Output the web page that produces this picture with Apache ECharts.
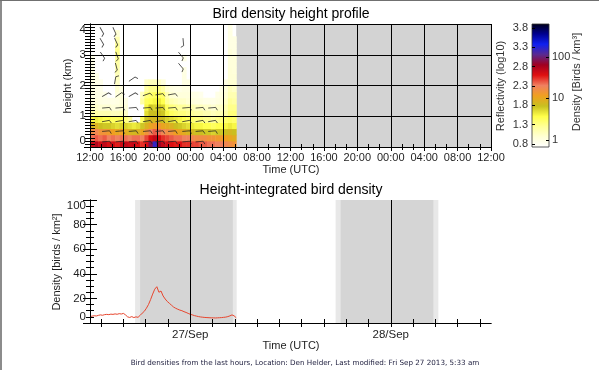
<!DOCTYPE html>
<html><head><meta charset="utf-8">
<script src="https://cdn.jsdelivr.net/npm/echarts@6/dist/echarts.min.js"></script>
<style>html,body{margin:0;padding:0;background:#fff}#c{width:599px;height:370px}</style>
</head><body><div id="c"></div>
<script>
// ---------- DATA (hours counted from 26 Sep 12:00 UTC) ----------
const clockLabels = ['12:00','16:00','20:00','00:00','04:00','08:00','12:00','16:00','20:00','00:00','04:00','08:00','12:00'];
const dateLabelHours = [12, 36];
const dateLabels = ['27/Sep', '28/Sep'];
const densityTickHours = [1.33,4,6.67,9.33,12,14.67,17.33,20,22.67,25.33,28,30.67,33.33,36,38.67,41.33,44,46.67];
const reflLabels = [0.8,1.3,1.8,2.3,2.8,3.3,3.8];
const densityTickRefl = [0.9, 1.99, 3.05];
const densityTickLabels = ['1','10','100'];
const reflMin = 0.72, reflMax = 3.9;
const colorStops = ['#ffffff','#ffffd6','#ffff9a','#ffff4a','#c8c020','#f0a020','#f08060','#e01010','#a00020','#5a2a90','#1020f0','#000090','#000018'];

// reflectivity (log10) per 0.2 km height bin, 30-min columns from 12:00 to 05:30
const colStepHours = 0.5, rowStepKm = 0.2;
const h00 = [2.65,2.75,2.65,2.7,2.6,2.65,2.55,2.65, 2.7,2.65,2.7,2.6,2.5,2.6,2.95,3.25, 2.85,2.7,2.65,2.6,2.55,2.6,2.5,2.5, 2.45,2.45,2.4,2.4,2.35,2.35,2.3,2.3, 2.25,2.2,2.15];
const h02 = [2.35,2.4,2.35,2.4,2.3,2.35,2.3,2.35, 2.35,2.3,2.35,2.35,2.3,2.45,2.6,2.7, 2.6,2.5,2.45,2.4,2.35,2.35,2.3,2.3, 2.25,2.2,2.2,2.2,2.15,2.15,2.1,2.1, 2.05,2.0,1.95];
const h04 = [2.2,2.25,2.15,2.15,2.1,2.05,2.0,2.05, 1.95,1.9,1.85,1.9,2.0,2.15,2.3,2.4, 2.35,2.25,2.2,2.15,2.05,2.0,1.95,1.9, 1.85,1.8,1.8,1.75,1.75,1.7,1.75,1.75, 1.8,1.85,1.8];
const h06 = [1.85,1.9,1.8,1.75,1.75,1.7,1.65,1.7, 1.7,1.65,1.6,1.65,1.75,1.9,2.0,2.1, 2.1,2.0,1.95,1.9,1.8,1.75,1.7,1.65, 1.6,1.55,1.55,1.5,1.5,1.45,1.5,1.5, 1.55,1.6,1.55];
const h08 = [1.55,1.6,1.55,1.5,1.5,1.45,1.45,1.5, 1.35,1.25,0,0,1.45,1.75,1.85,1.85, 1.85,1.8,1.7,1.65,1.6,1.55,1.5,1.45, 1.4,1.35,1.35,1.3,1.3,1.25,1.3,1.35, 1.4,1.45,1.4];
const h10 = [1.2,1.2,1.15,1.15,1.15,1.1,1.1,1.15, 1.05,0,0,0,0,1.65,1.8,1.8, 1.8,1.75,1.55,1.45,1.4,1.35,1.35,1.3, 1.25,1.2,1.2,1.15,1.15,1.1,1.15,1.15, 1.2,1.35,1.35];
const h12 = [1.05,1.05,1.0,1.0,1.0,0.95,0.95,1.0, 0.95,0,0,0,0,1.55,1.75,1.7, 1.75,1.7,1.45,1.35,1.3,1.25,1.25,1.2, 1.15,1.1,1.1,1.05,1.05,1.0,1.05,1.05, 1.15,1.3,1.3];
const h14 = [0.95,0.95,0.9,0.88,0.88,0.88,0.9,0.95, 0.88,0,0,0,1.2,1.45,1.5,1.55, 1.6,1.5,1.25,1.15,1.1,1.05,1.05,1.0, 0.95,0.92,0.92,0.88,0.88,0.88,0.92,0.95, 1.05,1.25,1.2];
const h16 = [0.92,0.9,0.88,0.85,0,0,0.95,0.95, 0,0,0,0,1.1,1.35,1.4,1.45, 1.45,1.4,1.15,1.0,0.95,0.95,0.95,0.95, 0.88,0.88,0.85,0,0,0,0.88,0.92, 1.0,1.15,1.15];
const h18 = [0.9,0.88,0.85,0,0,0,1.0,0.9, 0,0,0,0,0,1.2,1.3,1.3, 1.3,1.2,1.0,0.92,0.88,0.88,0.92,0.92, 0,0,0,0,0,0,0,0.88, 0.95,1.1,1.05];
const h20 = [0.9,0.88,0.85,0,0,0,1.05,0, 0,0,0,0,0,1.05,1.1,1.1, 1.05,0.95,0,0,0,0,0.9,0.9, 0,0,0,0,0,0,0,0, 0.9,1.0,1.0];
const h22 = [0.9,0.88,0,0,0,0,1.1,0, 0,0,0,0,0,0,0,0, 0,0,0,0,0,0,0.9,0, 0,0,0,0,0,0,0,0, 0,0.98,0.98];
const h24 = [0.9,0,0,0,0,0,1.15,0, 0,0,0,0,0,0,0,0, 0,0,0,0,0,0,0.9,0, 0,0,0,0,0,0,0,0, 0,0.98,0.95];
const h26 = [0.88,0,0,0,0,0,1.2,0, 0,0,0,0,0,0,0,0, 0,0,0,0,0,0,0,0, 0,0,0,0,0,0,0,0, 0,0.95,0.95];
const h28 = [0.88,0,0,0,0,0,1.25,0, 0,0,0,0,0,0,0,0, 0,0,0,0,0,0,0.88,0, 0,0,0,0,0,0,0,0, 0,0.95,0.95];
const h30 = [0,0,0,0,0,0,1.3,0, 0,0,0,0,0,0,0,0, 0,0,0,0,0,0,0,0, 0,0,0,0,0,0,0,0, 0,0.95,0.9];
const h32 = [0,0,0,0,0,0,1.25,0, 0,0,0,0,0,0,0,0, 0,0,0,0,0,0,0,0, 0,0,0,0,0,0,0,0, 0,0.9,0.9];
const h34 = [0,0,0,0,0,0,1.15,0, 0,0,0,0,0,0,0,0, 0,0,0,0,0,0,0,0, 0,0,0,0,0,0,0,0, 0,0.9,0.9];
const h36 = [0,0,0,0,0,0,1.0,0, 0,0,0,0,0,0,0,0, 0,0,0,0,0,0,0,0, 0,0,0,0,0,0,0,0, 0,0.9,0];
const h38 = [0,0,0,0,0,0,0,0, 0,0,0,0,0,0,0,0, 0,0,0,0,0,0,0,0, 0,0,0,0,0,0,0,0, 0,0.88,0];
const profileRows = [h00,h02,h04,h06,h08,h10,h12,h14,h16,h18,h20,h22,h24,h26,h28,h30,h32,h34,h36,h38];
const dataEndHour = 17.5;

// wind barbs: time (h), height (km), orientation (deg)
const barbHours   = [1.3,2.8, 1.3,3.0,11.0, 1.4,3.1,10.8, 3.0,10.8, 3.2,5.2, 2.0,3.6,5.2,6.9,8.4,9.9,
                     2.0,3.6,5.2,6.9,8.4,9.9,11.6,13.2,14.7, 2.0,3.6,5.2,6.9,8.4,9.9,11.6,13.2,14.7,
                     2.0,3.6,5.2,6.9,8.4,9.9,11.6,13.2,14.7, 2.0,3.6,5.2,6.9,8.4,9.9,11.6,13.2];
const barbHeights = [3.74,3.74, 3.39,3.39,3.39, 2.94,2.94,2.94, 2.58,2.58, 2.18,2.18, 1.67,1.67,1.67,1.67,1.67,1.67,
                     1.23,1.23,1.23,1.23,1.23,1.23,1.23,1.23,1.23, 0.8,0.8,0.8,0.8,0.8,0.8,0.8,0.8,0.8,
                     0.47,0.47,0.47,0.47,0.47,0.47,0.47,0.47,0.47, 0.13,0.13,0.13,0.13,0.13,0.13,0.13,0.13];
const barbAngles  = [-60,-65, -60,-65,-85, -55,-70,-50, -75,-50, 80,35, 30,35,30,20,10,10,
                     5,5,5,5,5,5,5,5,5, 10,10,10,10,10,10,10,10,10,
                     5,5,5,5,5,5,5,5,5, 5,5,5,5,5,5,5,5];

// height-integrated density (birds/km2), every 15 min from 12:00
const densityStepHours = 0.25;
const densityValues = [5.2,5.6,5.9,5.7,6.2,6.6,6.3,6.8,7.0,6.8,7.2,7.0,7.4,7.1,7.6,7.3,
  7.8,6.6,5.0,4.5,5.2,4.4,5.0,4.6,6.2,8.0,9.5,12.0,15.0,19.0,23.5,27.5,
  29.5,25.0,26.0,22.0,19.5,17.5,16.0,14.5,13.0,12.0,11.2,10.5,10.0,9.2,8.6,7.8,
  7.1,6.6,6.0,5.6,5.2,4.9,4.7,4.5,4.4,4.3,4.2,4.2,4.1,4.2,4.3,4.4,
  4.6,4.8,5.2,5.8,6.6,5.8,4.3];
const twilightBands = [[5.4,17.56],[29.4,41.7]];
const nightBands = [[6.0,17.1],[30.0,41.1]];
const midnightHours = [12, 36];

// ---------- BUILD ----------
const FF = 'Liberation Sans, Arial, sans-serif';
const TXT = '#1e1e1e';
const cells = [];
profileRows.forEach((row, r) => row.forEach((v, c) => { if (v > 0) cells.push([c * colStepHours, r * rowStepKm, v]); }));
const barbs = barbHours.map((t, i) => ({ value: [t, barbHeights[i]], symbolRotate: barbAngles[i] }));
const density = densityValues.map((v, i) => [i * densityStepHours, v]);

const blackLine = { lineStyle: { color: '#000', width: 1 } };
function tickStyle(len) { return { show: true, inside: true, length: len, lineStyle: { color: '#000', width: 1 } }; }

const option = {
  animation: false,
  backgroundColor: '#fff',
  grid: [
    { left: 90, top: 24, width: 401, height: 123 },
    { left: 90, top: 200, width: 401, height: 123 },
    { left: 532, top: 24, width: 17, height: 123 }
  ],
  visualMap: [{ type: 'continuous', show: false, min: reflMin, max: reflMax, dimension: 2, seriesIndex: 0, inRange: { color: colorStops } }],
  xAxis: [
    { gridIndex: 0, type: 'value', min: 0, max: 48, interval: 4, position: 'bottom', z: 5,
      axisLine: blackLine, axisTick: tickStyle(4), minorTick: { show: true, splitNumber: 3, length: 3, lineStyle: { color: '#000' } },
      splitLine: { show: true, lineStyle: { color: '#000', width: 1 } },
      axisLabel: { margin: 5, fontSize: 11, color: TXT, fontFamily: FF, formatter: v => clockLabels[Math.round(v / 4)] } },
    { gridIndex: 0, type: 'value', min: 0, max: 48, interval: 4, position: 'top', z: 5,
      axisLine: blackLine, axisTick: tickStyle(4), minorTick: { show: true, splitNumber: 3, length: 3, lineStyle: { color: '#000' } },
      splitLine: { show: false }, axisLabel: { show: false } },
    { gridIndex: 1, type: 'value', min: 0, max: 48, position: 'bottom', z: 5,
      axisLine: blackLine, axisTick: Object.assign(tickStyle(4), { customValues: densityTickHours }),
      splitLine: { show: false },
      axisLabel: { customValues: dateLabelHours, margin: 6, fontSize: 11.5, color: TXT, fontFamily: FF,
        formatter: v => dateLabels[dateLabelHours.indexOf(v)] } },
    { gridIndex: 1, type: 'value', min: 0, max: 48, position: 'top', z: 5,
      axisLine: blackLine, axisTick: Object.assign(tickStyle(4), { customValues: densityTickHours }),
      splitLine: { show: false }, axisLabel: { show: false } },
    { gridIndex: 2, type: 'value', min: 0, max: 1, show: false }
  ],
  yAxis: [
    { gridIndex: 0, type: 'value', min: 0, max: 4, interval: 1, position: 'left', z: 5,
      axisLine: blackLine, axisTick: tickStyle(6), minorTick: { show: true, splitNumber: 10, length: 5, lineStyle: { color: '#000' } },
      splitLine: { show: true, lineStyle: { color: '#000', width: 1 } },
      axisLabel: { margin: 4, fontSize: 11.5, color: TXT, fontFamily: FF, verticalAlignMinLabel: 'bottom', verticalAlignMaxLabel: 'top' } },
    { gridIndex: 0, type: 'value', min: 0, max: 4, interval: 1, position: 'right', z: 5,
      axisLine: blackLine, axisTick: tickStyle(6), minorTick: { show: true, splitNumber: 10, length: 5, lineStyle: { color: '#000' } },
      splitLine: { show: false }, axisLabel: { show: false } },
    { gridIndex: 1, type: 'value', min: 0, max: 100, interval: 20, position: 'left', z: 5,
      axisLine: blackLine, axisTick: tickStyle(7), minorTick: { show: true, splitNumber: 4, length: 4, lineStyle: { color: '#000' } },
      splitLine: { show: false },
      axisLabel: { margin: 4, fontSize: 11.5, color: TXT, fontFamily: FF, verticalAlignMinLabel: 'bottom', verticalAlignMaxLabel: 'top' } },
    { gridIndex: 1, type: 'value', min: 0, max: 100, interval: 20, position: 'right', z: 5,
      axisLine: blackLine, axisTick: tickStyle(7), minorTick: { show: true, splitNumber: 4, length: 4, lineStyle: { color: '#000' } },
      splitLine: { show: false }, axisLabel: { show: false } },
    { gridIndex: 2, type: 'value', min: reflMin, max: reflMax, position: 'left', z: 5,
      axisLine: { show: false }, axisTick: Object.assign(tickStyle(3), { customValues: reflLabels }),
      splitLine: { show: false },
      axisLabel: { customValues: reflLabels, margin: 4, fontSize: 11, color: '#333', fontFamily: FF, formatter: v => v.toFixed(1) } },
    { gridIndex: 2, type: 'value', min: reflMin, max: reflMax, position: 'right', z: 5,
      axisLine: { show: false }, axisTick: Object.assign(tickStyle(3), { customValues: densityTickRefl }),
      splitLine: { show: false },
      axisLabel: { customValues: densityTickRefl, margin: 3, fontSize: 11, color: '#333', fontFamily: FF,
        formatter: v => densityTickLabels[densityTickRefl.indexOf(v)] } }
  ],
  series: [
    { type: 'custom', xAxisIndex: 0, yAxisIndex: 0, data: cells, clip: true, z: 2,
      encode: { x: 0, y: 1 },
      renderItem: (params, api) => {
        const x = api.value(0), y = api.value(1);
        const p0 = api.coord([x, y]);
        const p1 = api.coord([x + colStepHours, y + rowStepKm]);
        return { type: 'rect', shape: { x: p0[0], y: p1[1], width: p1[0] - p0[0] + 0.5, height: p0[1] - p1[1] + 0.5 },
                 style: { fill: api.visual('color') } };
      } },
    { type: 'scatter', xAxisIndex: 0, yAxisIndex: 0, data: barbs, z: 8, silent: true,
      symbol: 'path://M0,0L10,0L12,4', symbolSize: 9, symbolKeepAspect: true,
      itemStyle: { color: 'rgba(0,0,0,0)', borderColor: '#222', borderWidth: 0.9 },
      markArea: { silent: true, itemStyle: { color: '#d3d3d3' }, data: [[{ xAxis: dataEndHour }, { xAxis: 48 }]] } },
    { type: 'line', xAxisIndex: 2, yAxisIndex: 2, data: density, showSymbol: false, z: 3,
      lineStyle: { color: '#e8462e', width: 1 },
      markArea: { silent: true, data: twilightBands.map(b => [{ xAxis: b[0], itemStyle: { color: '#e8e8e8' } }, { xAxis: b[1] }])
                  .concat(nightBands.map(b => [{ xAxis: b[0], itemStyle: { color: '#d5d5d5' } }, { xAxis: b[1] }])) },
      markLine: { silent: true, symbol: 'none', label: { show: false }, lineStyle: { color: '#000', width: 1, type: 'solid' },
                  data: midnightHours.map(h => ({ xAxis: h })) } },
    { type: 'custom', xAxisIndex: 4, yAxisIndex: 4, data: [[0, reflMin, 1, reflMax]], z: 2, silent: true,
      renderItem: (params, api) => {
        const a = api.coord([api.value(0), api.value(1)]);
        const b = api.coord([api.value(2), api.value(3)]);
        return { type: 'rect', shape: { x: a[0], y: b[1], width: b[0] - a[0], height: a[1] - b[1] },
                 style: { fill: new echarts.graphic.LinearGradient(0, 1, 0, 0, colorStops.map((c, i) => ({ offset: i / (colorStops.length - 1), color: c }))),
                          stroke: '#333', lineWidth: 0.8 } };
      } }
  ],
  graphic: [
    { type: 'rect', left: 0, top: 0, shape: { width: 2, height: 370 }, style: { fill: '#8c8c8c' }, silent: true },
    { type: 'rect', left: 0, top: 0, shape: { width: 599, height: 1 }, style: { fill: '#707070' }, silent: true },
    { type: 'text', x: 291, y: 14, style: { text: 'Bird density height profile', font: '14px ' + FF, fill: '#000', align: 'center', verticalAlign: 'middle' } },
    { type: 'text', x: 291, y: 190, style: { text: 'Height-integrated bird density', font: '14px ' + FF, fill: '#000', align: 'center', verticalAlign: 'middle' } },
    { type: 'text', x: 291, y: 170, style: { text: 'Time (UTC)', font: '11px ' + FF, fill: TXT, align: 'center', verticalAlign: 'middle' } },
    { type: 'text', x: 291, y: 346, style: { text: 'Time (UTC)', font: '11px ' + FF, fill: TXT, align: 'center', verticalAlign: 'middle' } },
    { type: 'text', x: 68, y: 86, rotation: Math.PI / 2, style: { text: 'height (km)', font: '11px ' + FF, fill: TXT, align: 'center', verticalAlign: 'middle' } },
    { type: 'text', x: 57, y: 262, rotation: Math.PI / 2, style: { text: 'Density [birds / km²]', font: '11px ' + FF, fill: TXT, align: 'center', verticalAlign: 'middle' } },
    { type: 'text', x: 501, y: 86, rotation: Math.PI / 2, style: { text: 'Reflectivity (log10)', font: '11px ' + FF, fill: '#333', align: 'center', verticalAlign: 'middle' } },
    { type: 'text', x: 577, y: 82, rotation: Math.PI / 2, style: { text: 'Density [Birds / km³]', font: '11px ' + FF, fill: '#333', align: 'center', verticalAlign: 'middle' } },
    { type: 'text', x: 305, y: 363, style: { text: 'Bird densities from the last hours, Location: Den Helder, Last modified: Fri Sep 27 2013, 5:33 am', font: '7.2px DejaVu Sans, sans-serif', fill: '#1c1c3c', align: 'center', verticalAlign: 'middle' } }
  ]
};
const chart = echarts.init(document.getElementById('c'), null, { renderer: 'canvas', width: 599, height: 370 });
chart.setOption(option);
</script></body></html>
